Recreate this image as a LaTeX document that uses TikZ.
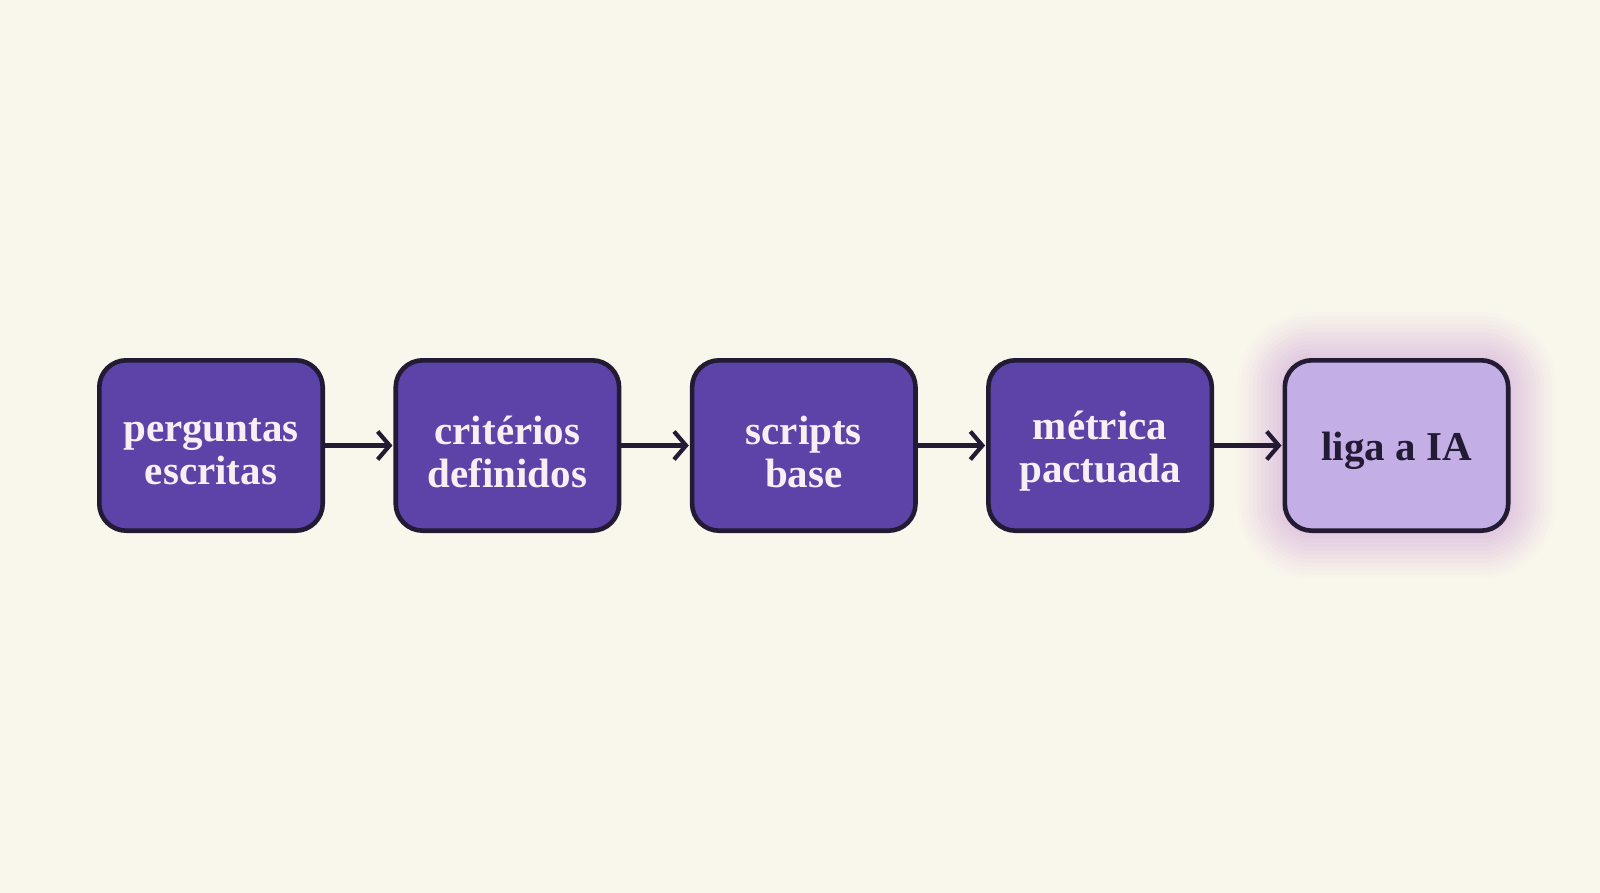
\documentclass[tikz,border=0pt]{standalone}
\usepackage{fontspec}
\setmainfont{Liberation Serif}
\usetikzlibrary{arrows.meta}
\definecolor{bg}{HTML}{F9F6EC}
\definecolor{boxfill}{HTML}{5B43A8}
\definecolor{boxline}{HTML}{231A33}
\definecolor{lastfill}{HTML}{C3AEE6}
\definecolor{glow}{HTML}{CFA0D8}
\definecolor{txtlight}{HTML}{F6F0F4}
\definecolor{txtdark}{HTML}{231A33}
\begin{document}
\begin{tikzpicture}[x=1pt,y=-1pt,
  stepbox/.style={draw=boxline, line width=4.6pt, rounded corners=27pt,
    fill=boxfill, minimum width=223.4pt, minimum height=170.4pt, inner sep=0pt},
  lastbox/.style={stepbox, fill=lastfill},
  boxtext/.style={align=center, text=txtlight, inner sep=0pt,
    font=\fontsize{41}{43}\selectfont\bfseries},
  lasttext/.style={boxtext, text=txtdark},
  flow/.style={draw=boxline, line width=4.2pt, -{Straight Barb[length=12pt,width=28pt,line width=4.2pt]}, shorten >=1pt}]
\useasboundingbox (0,0) rectangle (1600,893);
\fill[bg] (0,0) rectangle (1600,893);
% glow around last box
\foreach \r/\o in {48/0.025,44/0.03,40/0.035,36/0.04,32/0.045,28/0.05,24/0.055,20/0.06,16/0.065,12/0.07,8/0.075,4/0.08}{
  \fill[glow, opacity=\o, rounded corners=27pt+\r pt]
    (1284.8-\r,360.3-\r) rectangle (1508.2+\r,530.7+\r);
}
\node[stepbox] (a) at (211,445.5) {};
\node[stepbox] (b) at (507.4,445.5) {};
\node[stepbox] (c) at (803.8,445.5) {};
\node[stepbox] (d) at (1100.1,445.5) {};
\node[lastbox] (e) at (1396.5,445.5) {};
\node[boxtext] (at) at ([yshift=-6pt]a.center) {perguntas\\escritas};
\node[boxtext] (bt) at ([yshift=-6pt]b.center) {critérios\\definidos};
\node[boxtext] (ct) at ([yshift=-6pt]c.center) {scripts\\base};
\node[boxtext] (dt) at ([yshift=-6pt]d.center) {métrica\\pactuada};
\node[lasttext] (et) at ([yshift=-5pt]e.center) {liga a IA};
\draw[flow] (a) -- (b);
\draw[flow] (b) -- (c);
\draw[flow] (c) -- (d);
\draw[flow] (d) -- (e);
\end{tikzpicture}
\end{document}
